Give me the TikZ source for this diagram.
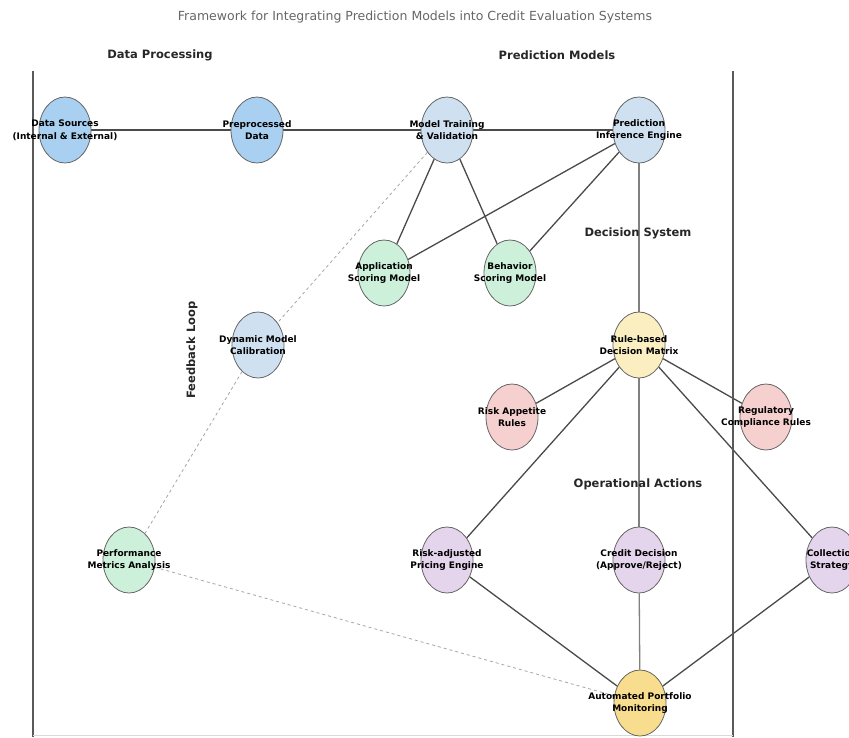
\documentclass[tikz,border=0pt]{standalone}
\usepackage{fontspec}
\setmainfont{DejaVu Sans}
\usepackage{tikz}
\usetikzlibrary{shapes.geometric,backgrounds}

\definecolor{blueA}{HTML}{A9D0F0}
\definecolor{blueB}{HTML}{CFE1F1}
\definecolor{greenA}{HTML}{CCF0DA}
\definecolor{pinkA}{HTML}{F6CFCF}
\definecolor{yellowA}{HTML}{FBEFC2}
\definecolor{yellowB}{HTML}{F8DD8E}
\definecolor{purpleA}{HTML}{E4D4EC}
\definecolor{edgegray}{HTML}{4A4A4A}

\begin{document}
\begin{tikzpicture}[x=1pt,y=-1pt,
	stage/.style={ellipse,draw=gray!80!black,line width=0.8pt,minimum width=52,minimum height=66,inner xsep=-40pt,inner ysep=0pt,align=center,font=\fontsize{9}{12.5}\selectfont\bfseries},
	section/.style={font=\fontsize{11.5}{13}\selectfont\bfseries,text=black!85},
	link/.style={draw=edgegray,line width=1.3pt},
	feedback/.style={draw=gray!70,line width=0.8pt,dashed}]
		\useasboundingbox (0,0) rectangle (849,737);
		
		\node (title) [font=\fontsize{12.5}{14}\selectfont,text=black!60] at (415,17) {Framework for Integrating Prediction Models into Credit Evaluation Systems};
		
		\node (hdata) [section] at (160,55) {Data Processing};
		\node (hpred) [section] at (557,55) {Prediction Models};
		\node (hdec) [section] at (638,233) {Decision System};
		\node (hops) [section] at (638,484) {Operational Actions};
		\node (hloop) [section,rotate=90] at (192,350) {Feedback Loop};
		
		% frame
		\draw[line width=1.5pt,black!65] (33,71)--(33,737);
		\draw[line width=1.5pt,black!65] (733,71)--(733,737);
		\draw[line width=1pt,black!15] (33,735)--(733,735);
		
		\node (src) [stage,fill=blueA] at (65,130) {Data Sources\\(Internal \& External)};
		\node (prep) [stage,fill=blueA] at (257,130) {Preprocessed\\Data};
		\node (train) [stage,fill=blueB] at (447,130) {Model Training\\\& Validation};
		\node (infer) [stage,fill=blueB] at (639,130) {Prediction\\Inference Engine};
		
		\node (appsc) [stage,fill=greenA] at (384,273) {Application\\Scoring Model};
		\node (behsc) [stage,fill=greenA] at (510,273) {Behavior\\Scoring Model};
		
		\node (calib) [stage,fill=blueB] at (258,345) {Dynamic Model\\Calibration};
		\node (matrix) [stage,fill=yellowA] at (639,345) {Rule-based\\Decision Matrix};
		\node (appet) [stage,fill=pinkA] at (512,417) {Risk Appetite\\Rules};
		\node (regul) [stage,fill=pinkA] at (766,417) {Regulatory\\Compliance Rules};
		
		\node (perf) [stage,fill=greenA] at (129,560) {Performance\\Metrics Analysis};
		\node (price) [stage,fill=purpleA] at (447,560) {Risk-adjusted\\Pricing Engine};
		\node (credit) [stage,fill=purpleA] at (639,560) {Credit Decision\\(Approve/Reject)};
		\node (collect) [stage,fill=purpleA] at (832,560) {Collection\\Strategy};
		\node (monit) [stage,fill=yellowB] at (640,703) {Automated Portfolio\\Monitoring};
		
		\begin{pgfonlayer}{background}
		\draw[link] (src)--(prep)--(train)--(infer);
		\draw[link] (train)--(appsc); \draw[link] (train)--(behsc);
		\draw[link] (infer)--(appsc); \draw[link] (infer)--(behsc);
		\draw[link,draw=gray] (infer)--(matrix);
		\draw[link] (matrix)--(appet); \draw[link] (matrix)--(regul);
		\draw[link] (matrix)--(price); \draw[link,draw=gray] (matrix)--(credit); \draw[link] (matrix)--(collect);
		\draw[link] (price)--(monit); \draw[link,draw=gray] (credit)--(monit); \draw[link] (collect)--(monit);
		
		\draw[feedback] (train)--(calib)--(perf)--(monit);
		\end{pgfonlayer}
	\end{tikzpicture}
\end{document}
